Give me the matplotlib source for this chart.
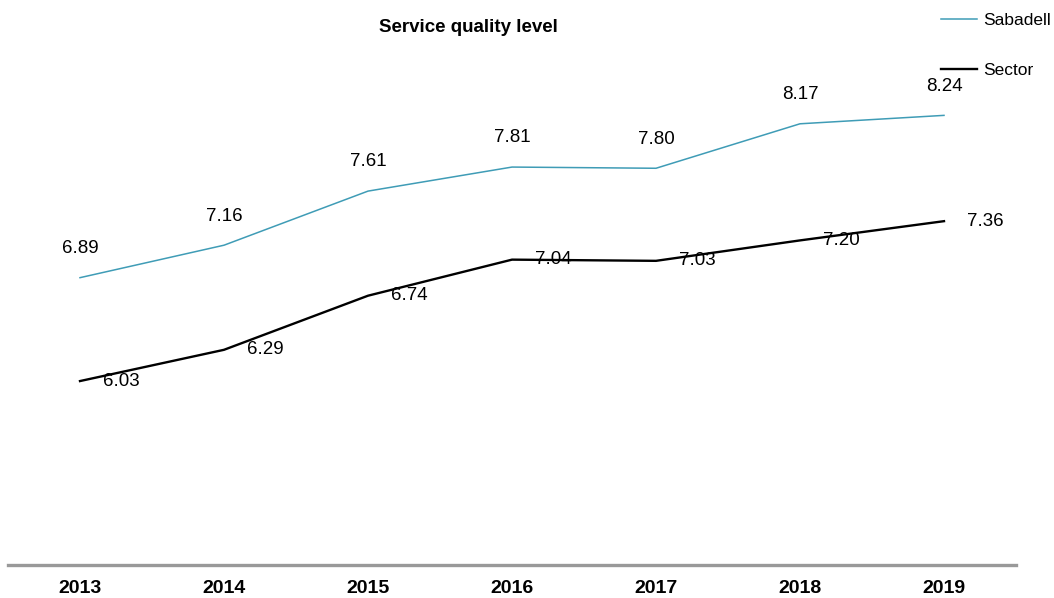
import matplotlib.pyplot as plt

# Service quality level, Sabadell vs sector
years = ["2013", "2014", "2015", "2016", "2017", "2018", "2019"]
sabadell = [6.89, 7.16, 7.61, 7.81, 7.80, 8.17, 8.24]
sector = [6.03, 6.29, 6.74, 7.04, 7.03, 7.20, 7.36]

plt.rcParams['font.family'] = ['Liberation Sans', 'DejaVu Sans']

fig = plt.figure(figsize=(10.54, 5.98), dpi=100)
ax = fig.add_axes([8 / 1054, 1 - 565 / 598, 1008 / 1054, 541 / 598])

x = range(len(years))
ax.plot(x, sabadell, color='#3f9cb6', lw=1.1, label='Sabadell')
ax.plot(x, sector, color='black', lw=1.7, label='Sector')

for i, v in enumerate(sabadell):
    ax.annotate(f"{v:.2f}", (i, v), xytext=(0, 21), textcoords='offset points',
                ha='center', va='center', fontsize=13.5)
for i, v in enumerate(sector):
    ax.annotate(f"{v:.2f}", (i, v), xytext=(30, 0), textcoords='offset points',
                ha='center', va='center', fontsize=13.5)

ax.set_xlim(-0.5, 6.5)
ax.set_ylim(4.5, 9.0)
ax.set_xticks(list(x))
ax.set_xticklabels(years, fontweight='bold', fontsize=14)
ax.tick_params(axis='x', length=0, pad=11)
ax.set_yticks([])
for s in ['left', 'right', 'top']:
    ax.spines[s].set_visible(False)
ax.spines['bottom'].set_color('#999999')
ax.spines['bottom'].set_linewidth(2.4)

fig.text(468 / 1054, 1 - 28 / 598, "Service quality level", ha='center', va='center',
         fontsize=13.5, fontweight='bold')

ax.legend(loc='upper left', bbox_to_anchor=(925 / 1054, 1 + 3 / 598),
          bbox_transform=fig.transFigure, frameon=False, fontsize=12.5,
          handlelength=2.1, handletextpad=0.35, labelspacing=2.0)

fig.savefig('out.png', dpi=100)
